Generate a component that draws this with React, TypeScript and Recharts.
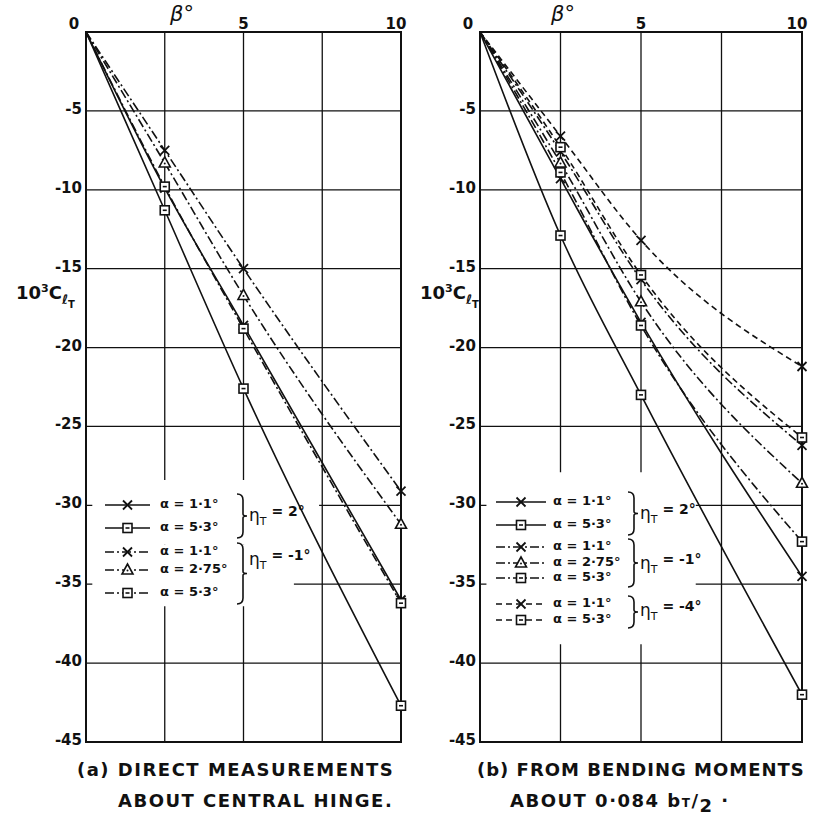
import React from 'react';
import { LineChart, Line, XAxis, YAxis, CartesianGrid, ReferenceArea } from 'recharts';

const FONT = '"DejaVu Sans", sans-serif';
const INK = '#111';

// β° values at which the measurements were plotted (0 = common origin)
const betaPoints = [0, 2.5, 5, 10];
const betaTicks = [0, 2.5, 5, 7.5, 10];
const betaTickLabels = ['0', '', '5', '', '10'];
const clTicks = [0, -5, -10, -15, -20, -25, -30, -35, -40, -45];

// (a) direct measurements about central hinge, 10^3 C_lT
const aEta2Alpha11 = [0, -9.9, -18.6, -36.0];
const aEta2Alpha53 = [0, -11.3, -22.6, -42.7];
const aEtaM1Alpha11 = [0, -7.5, -15.0, -29.1];
const aEtaM1Alpha275 = [0, -8.3, -16.7, -31.2];
const aEtaM1Alpha53 = [0, -9.8, -18.8, -36.2];

// (b) from bending moments about 0.084 bT/2
const bEta2Alpha11 = [0, -9.3, -18.4, -34.5];
const bEta2Alpha53 = [0, -12.9, -23.0, -42.0];
const bEtaM1Alpha11 = [0, -7.6, -15.7, -26.2];
const bEtaM1Alpha275 = [0, -8.3, -17.1, -28.6];
const bEtaM1Alpha53 = [0, -8.9, -18.6, -32.3];
const bEtaM4Alpha11 = [0, -6.6, -13.2, -21.2];
const bEtaM4Alpha53 = [0, -7.3, -15.4, -25.7];

type MarkerKind = 'x' | 'square' | 'triangle';
type Series = { key: string; values: number[]; marker: MarkerKind; dash?: string; label: string };

const DASH_DOT = '9 3 2 3';
const DASHED = '6 4';

const seriesA: Series[] = [
  { key: 'a1', values: aEta2Alpha11, marker: 'x', label: 'α = 1·1°' },
  { key: 'a2', values: aEta2Alpha53, marker: 'square', label: 'α = 5·3°' },
  { key: 'a3', values: aEtaM1Alpha11, marker: 'x', dash: DASH_DOT, label: 'α = 1·1°' },
  { key: 'a4', values: aEtaM1Alpha275, marker: 'triangle', dash: DASH_DOT, label: 'α = 2·75°' },
  { key: 'a5', values: aEtaM1Alpha53, marker: 'square', dash: DASH_DOT, label: 'α = 5·3°' },
];

const seriesB: Series[] = [
  { key: 'b1', values: bEta2Alpha11, marker: 'x', label: 'α = 1·1°' },
  { key: 'b2', values: bEta2Alpha53, marker: 'square', label: 'α = 5·3°' },
  { key: 'b3', values: bEtaM1Alpha11, marker: 'x', dash: DASH_DOT, label: 'α = 1·1°' },
  { key: 'b4', values: bEtaM1Alpha275, marker: 'triangle', dash: DASH_DOT, label: 'α = 2·75°' },
  { key: 'b5', values: bEtaM1Alpha53, marker: 'square', dash: DASH_DOT, label: 'α = 5·3°' },
  { key: 'b6', values: bEtaM4Alpha11, marker: 'x', dash: DASHED, label: 'α = 1·1°' },
  { key: 'b7', values: bEtaM4Alpha53, marker: 'square', dash: DASHED, label: 'α = 5·3°' },
];

const toRows = (list: Series[]) =>
  betaPoints.map((beta, i) => {
    const row: Record<string, number> = { beta };
    list.forEach((s) => (row[s.key] = s.values[i]));
    return row;
  });

const dataA = toRows(seriesA);
const dataB = toRows(seriesB);

// where the draughtsman left the grid blank behind the key (axis units)
type Blank = { x1: number; x2: number; y1: number; y2: number };
const blanksA: Blank[] = [
  { x1: 0.2, x2: 7.4, y1: -32.5, y2: -28.4 },
  { x1: 0.2, x2: 6.6, y1: -36.4, y2: -32.5 },
];
const blanksB: Blank[] = [{ x1: 0.2, x2: 6.7, y1: -38.8, y2: -27.9 }];

function Marker({ kind, cx, cy }: { kind: MarkerKind; cx: number; cy: number }) {
  if (kind === 'x') {
    const r = 4.5;
    return (
      <g stroke={INK} strokeWidth={1.8}>
        <line x1={cx - r} y1={cy - r} x2={cx + r} y2={cy + r} />
        <line x1={cx - r} y1={cy + r} x2={cx + r} y2={cy - r} />
      </g>
    );
  }
  if (kind === 'square') {
    return (
      <g stroke={INK} strokeWidth={1.6} fill="#fff">
        <rect x={cx - 4.5} y={cy - 4.5} width={9} height={9} />
        <line x1={cx - 2} y1={cy} x2={cx + 2} y2={cy} />
      </g>
    );
  }
  return (
    <g stroke={INK} strokeWidth={1.6} fill="#fff">
      <polygon points={`${cx},${cy - 6} ${cx + 5.5},${cy + 4} ${cx - 5.5},${cy + 4}`} />
      <circle cx={cx} cy={cy + 0.5} r={1} fill={INK} stroke="none" />
    </g>
  );
}

const makeDot = (s: Series) => (props: any) => {
  const { cx, cy, index } = props;
  if (index === 0 || cx == null) return <g key={`${s.key}-${index}`} />;
  return (
    <g key={`${s.key}-${index}`}>
      <Marker kind={s.marker} cx={cx} cy={cy} />
    </g>
  );
};

const XTick = (props: any) => {
  const { x, payload } = props;
  const i = betaTicks.indexOf(payload.value);
  const label = betaTickLabels[i];
  if (!label) return <g />;
  const dx = payload.value === 0 ? -12 : payload.value === 10 ? -5 : 0;
  return (
    <text x={x + dx} y={29} textAnchor="middle" fontFamily={FONT} fontWeight="bold" fontSize={15} fill={INK}>
      {label}
    </text>
  );
};

const YTick = (props: any) => {
  const { x, y, payload } = props;
  if (payload.value === 0) return <g />;
  return (
    <text x={x} y={y + 3} textAnchor="end" fontFamily={FONT} fontWeight="bold" fontSize={15} fill={INK}>
      {String(payload.value)}
    </text>
  );
};

function Plot({
  data,
  series,
  blanks,
  left,
  rightMargin,
}: {
  data: any[];
  series: Series[];
  blanks: Blank[];
  left: number;
  rightMargin: number;
}) {
  return (
    <div style={{ position: 'absolute', left, top: 0 }}>
      <LineChart
        width={410}
        height={760}
        data={data}
        margin={{ top: 2, right: rightMargin, left: left === 0 ? 6 : 0, bottom: 18 }}
      >
        <CartesianGrid stroke={INK} strokeWidth={1.3} />
        <XAxis
          type="number"
          dataKey="beta"
          domain={[0, 10]}
          ticks={betaTicks}
          orientation="top"
          height={30}
          axisLine={false}
          tickLine={false}
          tick={XTick}
          interval={0}
        />
        <YAxis
          type="number"
          domain={[-45, 0]}
          ticks={clTicks}
          width={80}
          axisLine={false}
          tickLine={false}
          tickSize={2}
          tickMargin={2}
          tick={YTick}
          interval={0}
        />
        {blanks.map((b, i) => (
          <ReferenceArea key={i} x1={b.x1} x2={b.x2} y1={b.y1} y2={b.y2} fill="#fff" fillOpacity={1} stroke="none" />
        ))}
        <ReferenceArea x1={0} x2={10} y1={-45} y2={0} fill="none" fillOpacity={0} stroke={INK} strokeWidth={2} />
        {series.map((s) => (
          <Line
            key={s.key}
            dataKey={s.key}
            type="monotone"
            stroke={INK}
            strokeWidth={1.6}
            strokeDasharray={s.dash}
            dot={makeDot(s)}
            activeDot={false}
            isAnimationActive={false}
          />
        ))}
      </LineChart>
    </div>
  );
}

function Brace({ x, y1, y2 }: { x: number; y1: number; y2: number }) {
  const h = y2 - y1;
  const m = (h - 16) / 2;
  const d = `M ${x} ${y1} q 6 0 6 6 v ${m} q 0 2 4 2 q -4 0 -4 2 v ${m} q 0 6 -6 6`;
  return <path d={d} fill="none" stroke={INK} strokeWidth={1.6} />;
}

type Group = { y1: number; y2: number; labelY: number; eta: string };

function LegendBlock({
  box,
  series,
  rowY,
  sampleX,
  sampleW,
  textX,
  braceX,
  labelX,
  groups,
}: {
  box: { left: number; top: number; width: number; height: number };
  series: Series[];
  rowY: number[];
  sampleX: number;
  sampleW: number;
  textX: number;
  braceX: number;
  labelX: number;
  groups: Group[];
}) {
  return (
    <div
      style={{
        position: 'absolute',
        left: box.left,
        top: box.top,
        width: box.width,
        height: box.height,
        fontFamily: FONT,
        color: INK,
      }}
    >
      <svg width={box.width} height={box.height} style={{ position: 'absolute', left: 0, top: 0 }}>
        {series.map((s, i) => {
          const y = rowY[i] - box.top;
          const x0 = sampleX - box.left;
          return (
            <g key={s.key}>
              <line x1={x0} x2={x0 + sampleW} y1={y} y2={y} stroke={INK} strokeWidth={1.6} strokeDasharray={s.dash} />
              <Marker kind={s.marker} cx={x0 + sampleW / 2} cy={y} />
            </g>
          );
        })}
        {groups.map((g, i) => (
          <Brace key={i} x={braceX - box.left} y1={g.y1 - box.top} y2={g.y2 - box.top} />
        ))}
      </svg>
      {series.map((s, i) => (
        <div
          key={s.key}
          style={{
            position: 'absolute',
            left: textX - box.left,
            top: rowY[i] - box.top - 9,
            fontSize: 13,
            fontWeight: 'bold',
            whiteSpace: 'nowrap',
            lineHeight: '16px',
          }}
        >
          {s.label}
        </div>
      ))}
      {groups.map((g, i) => (
        <div
          key={i}
          style={{
            position: 'absolute',
            left: labelX - box.left,
            top: g.labelY - box.top - 12,
            fontSize: 17,
            whiteSpace: 'nowrap',
            lineHeight: '20px',
          }}
        >
          η<sub style={{ fontSize: 11 }}>T</sub>
          <span style={{ fontSize: 14, position: 'relative', top: -5, fontWeight: 'bold' }}> = {g.eta}</span>
        </div>
      ))}
    </div>
  );
}

function CLabel({ left }: { left: number }) {
  return (
    <div style={{ position: 'absolute', left, top: 282, fontFamily: FONT, fontSize: 18, fontWeight: 'bold', color: INK, whiteSpace: 'nowrap' }}>
      10<sup style={{ fontSize: 11 }}>3</sup>C
      <sub style={{ fontSize: 13 }}>
        ℓ<sub style={{ fontSize: 10 }}>T</sub>
      </sub>
    </div>
  );
}

function BetaLabel({ left }: { left: number }) {
  return (
    <div style={{ position: 'absolute', left, top: 2, fontFamily: FONT, fontSize: 21, fontStyle: 'italic', color: INK }}>
      β°
    </div>
  );
}

const titleStyle: React.CSSProperties = {
  position: 'absolute',
  fontFamily: FONT,
  fontWeight: 'bold',
  fontSize: 18,
  letterSpacing: 1.5,
  color: INK,
  whiteSpace: 'nowrap',
};

export default function App() {
  return (
    <div style={{ position: 'absolute', left: 0, top: 0, width: 825, height: 822, background: '#fff', overflow: 'hidden' }}>
      <Plot data={dataA} series={seriesA} blanks={blanksA} left={0} rightMargin={9} />
      <Plot data={dataB} series={seriesB} blanks={blanksB} left={400} rightMargin={8} />

      <LegendBlock
        box={{ left: 92, top: 482, width: 206, height: 125 }}
        series={seriesA}
        rowY={[505, 528, 552, 570, 593]}
        sampleX={105}
        sampleW={45}
        textX={160}
        braceX={237}
        labelX={249}
        groups={[
          { y1: 494, y2: 538, labelY: 517, eta: '2°' },
          { y1: 543, y2: 604, labelY: 561, eta: '-1°' },
        ]}
      />
      <LegendBlock
        box={{ left: 486, top: 474, width: 210, height: 170 }}
        series={seriesB}
        rowY={[502, 525, 547, 563, 578, 604, 620]}
        sampleX={496}
        sampleW={50}
        textX={553}
        braceX={628}
        labelX={640}
        groups={[
          { y1: 492, y2: 535, labelY: 515, eta: '2°' },
          { y1: 539, y2: 587, labelY: 565, eta: '-1°' },
          { y1: 596, y2: 628, labelY: 612, eta: '-4°' },
        ]}
      />

      <CLabel left={16} />
      <CLabel left={420} />
      <BetaLabel left={170} />
      <BetaLabel left={551} />

      <div style={{ ...titleStyle, left: 77, top: 759 }}>(a) DIRECT MEASUREMENTS</div>
      <div style={{ ...titleStyle, left: 118, top: 790 }}>ABOUT CENTRAL HINGE.</div>
      <div style={{ ...titleStyle, left: 477, top: 759, letterSpacing: 1 }}>(b) FROM BENDING MOMENTS</div>
      <div style={{ ...titleStyle, left: 510, top: 790 }}>
        ABOUT 0·084 b<span style={{ fontSize: 12 }}>T</span>/<span style={{ position: 'relative', top: 5 }}>2</span> ·
      </div>
    </div>
  );
}
